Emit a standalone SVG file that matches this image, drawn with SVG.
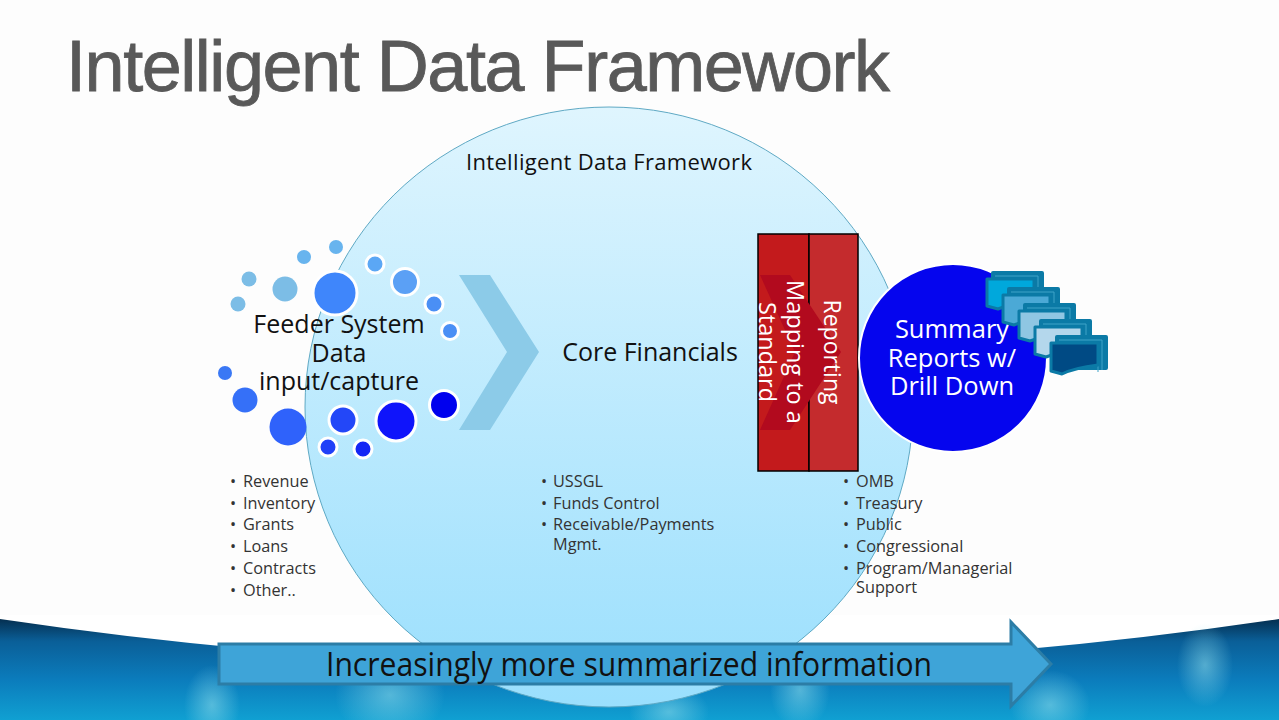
<svg xmlns="http://www.w3.org/2000/svg" width="1279" height="720" viewBox="0 0 1279 720">
<defs>
<linearGradient id="big" x1="0" y1="0" x2="0" y2="1"><stop offset="0" stop-color="#dff5fe"/><stop offset="1" stop-color="#9adffd"/></linearGradient>
<linearGradient id="band" x1="0" y1="0" x2="0" y2="1"><stop offset="0" stop-color="#052f50"/><stop offset=".22" stop-color="#0a5f98"/><stop offset=".6" stop-color="#0b7cbc"/><stop offset="1" stop-color="#10a0d2"/></linearGradient>
<radialGradient id="glow"><stop offset="0" stop-color="#8fdcea" stop-opacity=".55"/><stop offset="1" stop-color="#8fdcea" stop-opacity="0"/></radialGradient>
<g id="stack">
<rect x="7" y="0" width="51" height="33" rx="1" fill="#0b7aa6" stroke="#0b7aa6" stroke-width="2"/>
<path d="M10 4H53V34M7 7H49V36" fill="none" stroke="#3fa3c8" stroke-width="1"/>
</g>
</defs>
<style>
text{font-family:"Open Sans","Noto Sans","Liberation Sans",sans-serif;fill:#111}
.lab{font-size:25px;text-anchor:middle}
.li{font-size:16.300px;fill:#333}
.w{fill:#fff}
.d{stroke:#fff;stroke-width:3}
.front{stroke:#0b7aa6;stroke-width:3;stroke-linejoin:round}
</style>
<rect width="1279" height="720" fill="#fdfdfd"/>
<rect y="615" width="1279" height="105" fill="#fff"/>
<path id="band-shape" d="M0 619Q640 714 1279 619V720H0Z" fill="url(#band)"/>
<ellipse cx="212" cy="705" rx="28" ry="40" fill="url(#glow)"/>
<ellipse cx="390" cy="695" rx="55" ry="45" fill="url(#glow)"/>
<ellipse cx="669" cy="712" rx="40" ry="28" fill="url(#glow)"/>
<ellipse cx="800" cy="690" rx="30" ry="40" fill="url(#glow)"/>
<ellipse cx="1205" cy="665" rx="28" ry="42" fill="url(#glow)"/>
<ellipse cx="1050" cy="705" rx="40" ry="35" fill="url(#glow)"/>
<text x="66" y="91" style="font-family:'Liberation Sans',sans-serif;font-size:72px;fill:#595959;stroke:#595959;stroke-width:.8" textLength="824">Intelligent Data Framework</text>
<g id="framework"><ellipse cx="609" cy="407" rx="304" ry="300" fill="url(#big)" stroke="#5fa9c4" stroke-width="1"/>
<text class="lab" x="609" y="170" style="font-size:22px" textLength="286">Intelligent Data Framework</text></g>
<path id="chevron" d="M459 275H490L539 352L490 430H459L507 352Z" fill="#8ccbe8"/>
<g id="feeder">
<g fill="#7cbde6"><circle cx="238" cy="304" r="7.500"/><circle cx="249" cy="279" r="7.500"/><circle cx="285" cy="289" r="12.500"/></g>
<g fill="#68b4ee"><circle cx="304" cy="257" r="7"/><circle cx="336" cy="247" r="7"/></g>
<circle class="d" cx="335" cy="293" r="22" fill="#3f86fb"/>
<circle class="d" cx="375" cy="264" r="9" fill="#5ba7f5"/>
<circle class="d" cx="405" cy="282" r="13.500" fill="#5ba0f5"/>
<circle class="d" cx="434" cy="304" r="9" fill="#4a8ff5"/>
<circle class="d" cx="450" cy="331" r="8.500" fill="#4a8ff5"/>
<circle cx="225" cy="373" r="7" fill="#3a78f5"/>
<circle cx="245" cy="400" r="12.500" fill="#3570f8"/>
<circle cx="288" cy="427" r="18.500" fill="#2f62fb"/>
<circle class="d" cx="343" cy="420" r="14" fill="#2347f8"/>
<circle class="d" cx="328" cy="447" r="9" fill="#2040f8"/>
<circle class="d" cx="363" cy="449" r="9" fill="#1426f5"/>
<circle class="d" cx="396" cy="421" r="20" fill="#0f14fb"/>
<circle class="d" cx="444" cy="405" r="14.500" fill="#0000ee"/>
<text class="lab" x="339" y="333">Feeder System<tspan x="339" y="362">Data</tspan><tspan x="339" y="390">input/capture</tspan></text>
</g>
<text id="core" class="lab" x="650" y="361">Core Financials</text>
<g id="mapping"><rect x="758" y="234" width="51" height="237" fill="#c31a1c" stroke="#000" stroke-width="1.500"/></g>
<g id="reporting"><rect x="809" y="234" width="49" height="237" fill="#c42b2d" stroke="#000" stroke-width="1.500"/></g>
<path d="M760 275H790L841 352L790 430H760L795 352Z" fill="#b20a1e"/>
<text class="lab w" transform="translate(787 352) rotate(90)" style="font-size:23.500px">Mapping to a<tspan x="0" y="28">Standard</tspan></text>
<text class="lab w" transform="translate(824 352) rotate(90)" style="font-size:23px">Reporting</text>
<g id="summary"><circle cx="953" cy="358" r="94" fill="#0505ee" stroke="#fff" stroke-width="2"/>
<text class="lab w" x="952" y="338" style="font-size:25.500px">Summary<tspan x="952" y="367">Reports w/</tspan><tspan x="952" y="395">Drill Down</tspan></text>
</g>
<g id="pages">
<use href="#stack" x="985" y="272"/><path class="front" d="M987 279H1034V301Q1010 304 998 309L987 306Z" fill="#00a8dc"/>
<use href="#stack" x="1001" y="288"/><path class="front" d="M1003 295H1050V317Q1026 320 1014 325L1003 322Z" fill="#4ba9d6"/>
<use href="#stack" x="1017" y="304"/><path class="front" d="M1019 311H1066V333Q1042 336 1030 341L1019 338Z" fill="#8fc6e3"/>
<use href="#stack" x="1033" y="320"/><path class="front" d="M1035 327H1082V349Q1058 352 1046 357L1035 354Z" fill="#b4d7ec"/>
<use href="#stack" x="1049" y="336"/><path class="front" d="M1051 343H1098V365Q1074 368 1062 374L1051 371Z" fill="#004a84"/>
</g>
<g id="list1"><text class="li"><tspan x="230" y="487">•</tspan><tspan x="243" y="487">Revenue</tspan><tspan x="230" y="509">•</tspan><tspan x="243" y="509">Inventory</tspan><tspan x="230" y="530">•</tspan><tspan x="243" y="530">Grants</tspan><tspan x="230" y="552">•</tspan><tspan x="243" y="552">Loans</tspan><tspan x="230" y="574">•</tspan><tspan x="243" y="574">Contracts</tspan><tspan x="230" y="596">•</tspan><tspan x="243" y="596">Other..</tspan></text></g>
<g id="list2"><text class="li"><tspan x="541" y="487">•</tspan><tspan x="553" y="487">USSGL</tspan><tspan x="541" y="509">•</tspan><tspan x="553" y="509">Funds Control</tspan><tspan x="541" y="530">•</tspan><tspan x="553" y="530">Receivable/Payments</tspan><tspan x="553" y="550">Mgmt.</tspan></text></g>
<g id="list3"><text class="li"><tspan x="843" y="487">•</tspan><tspan x="856" y="487">OMB</tspan><tspan x="843" y="509">•</tspan><tspan x="856" y="509">Treasury</tspan><tspan x="843" y="530">•</tspan><tspan x="856" y="530">Public</tspan><tspan x="843" y="552">•</tspan><tspan x="856" y="552">Congressional</tspan><tspan x="843" y="574">•</tspan><tspan x="856" y="574">Program/Managerial</tspan><tspan x="856" y="593">Support</tspan></text></g>
<g id="arrow"><path d="M219 644H1011V622L1051 664L1011 706V684H219Z" fill="#3ea4d8" stroke="#2c7da6" stroke-width="3"/>
<text x="326" y="676" style="font-size:32px" textLength="606" lengthAdjust="spacingAndGlyphs">Increasingly more summarized information</text></g>
</svg>
